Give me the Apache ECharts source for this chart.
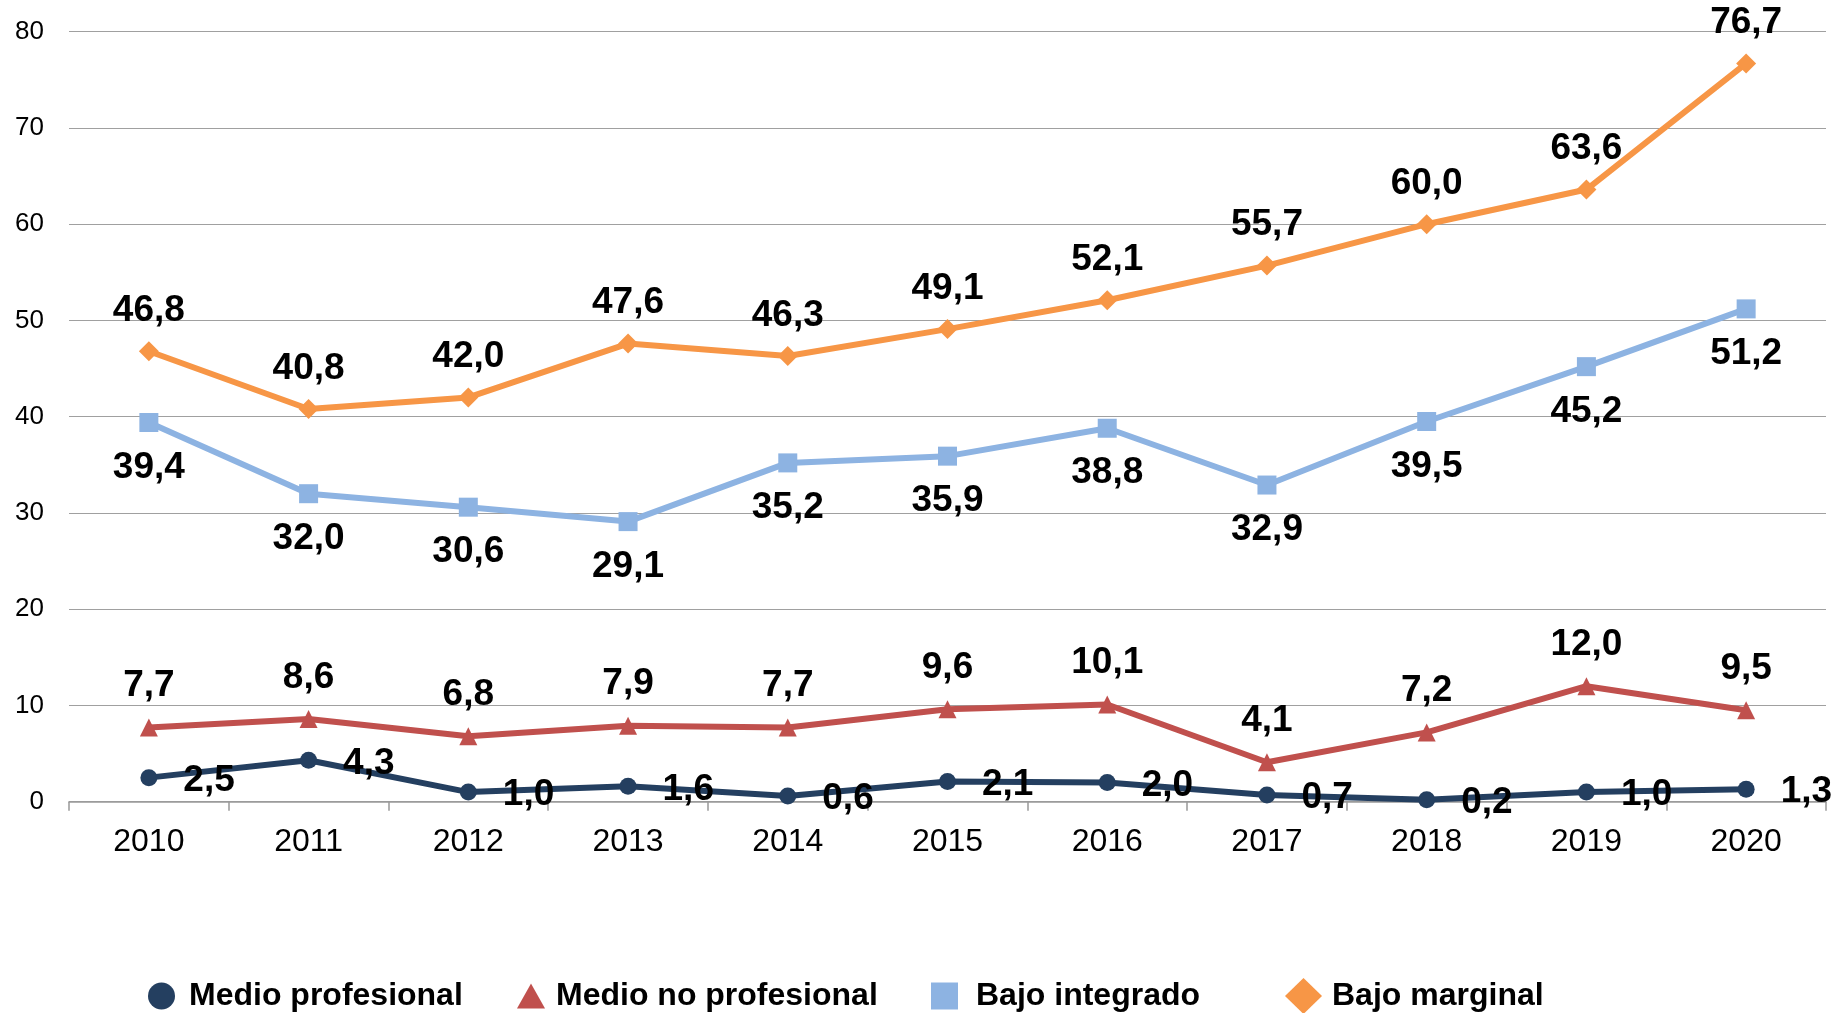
<!DOCTYPE html>
<html>
<head>
<meta charset="utf-8">
<script src="https://cdn.jsdelivr.net/npm/echarts@6/dist/echarts.min.js"></script>
<style>
html,body{margin:0;padding:0;background:#fff;}
#chart{width:1838px;height:1013px;}
</style>
</head>
<body>
<div id="chart"></div>
<script>
const years = ['2010','2011','2012','2013','2014','2015','2016','2017','2018','2019','2020'];
const medioProfesional = [2.5, 4.3, 1.0, 1.6, 0.6, 2.1, 2.0, 0.7, 0.2, 1.0, 1.3];
const medioNoProfesional = [7.7, 8.6, 6.8, 7.9, 7.7, 9.6, 10.1, 4.1, 7.2, 12.0, 9.5];
const bajoIntegrado = [39.4, 32.0, 30.6, 29.1, 35.2, 35.9, 38.8, 32.9, 39.5, 45.2, 51.2];
const bajoMarginal = [46.8, 40.8, 42.0, 47.6, 46.3, 49.1, 52.1, 55.7, 60.0, 63.6, 76.7];
const seriesNames = ['Medio profesional', 'Medio no profesional', 'Bajo integrado', 'Bajo marginal'];

const FONT = '"Liberation Sans", Arial, sans-serif';
const fmt = p => p.value.toFixed(1).replace('.', ',');
const labelBase = {show: true, formatter: fmt, color: '#000', fontSize: 37, fontWeight: 'bold', fontFamily: FONT};

const chart = echarts.init(document.getElementById('chart'));

function legendFor(name, icon, left, w, h, padLeft) {
  return {
    data: [{name: name, icon: icon}],
    left: left,
    top: 996 - Math.max(h, 32) / 2,
    padding: 0,
    itemWidth: w,
    itemHeight: h,
    selectedMode: false,
    textStyle: {fontSize: 32, fontWeight: 'bold', color: '#000', fontFamily: FONT, padding: [0, 0, 0, padLeft]}
  };
}

chart.setOption({
  animation: false,
  backgroundColor: '#fff',
  grid: {left: 69, right: 12, top: 31.7, bottom: 211.3, containLabel: false},
  legend: [
    legendFor(seriesNames[0], 'circle', 148, 27, 27, 9),
    legendFor(seriesNames[1], 'triangle', 517, 28, 25, 6),
    legendFor(seriesNames[2], 'rect', 931, 27, 27, 13),
    legendFor(seriesNames[3], 'diamond', 1285, 37, 36, 5)
  ],
  xAxis: {
    type: 'category',
    data: years,
    boundaryGap: true,
    axisLine: {show: true, lineStyle: {color: '#999', width: 1.5}},
    axisTick: {show: true, length: 9, lineStyle: {color: '#999', width: 1.5}},
    axisLabel: {fontSize: 32, color: '#000', fontFamily: FONT, margin: 24}
  },
  yAxis: {
    type: 'value',
    min: 0, max: 80, interval: 10,
    axisLine: {show: false},
    axisTick: {show: false},
    splitLine: {show: true, lineStyle: {color: '#a0a0a0', width: 1.2}},
    axisLabel: {fontSize: 26, color: '#000', fontFamily: FONT, margin: 25}
  },
  series: [
    {
      name: seriesNames[0], type: 'line', data: medioProfesional,
      symbol: 'circle', symbolSize: 17,
      lineStyle: {color: '#243F60', width: 6},
      itemStyle: {color: '#243F60'},
      label: Object.assign({}, labelBase, {position: 'right', distance: 26, offset: [0, 3]}),
      z: 4
    },
    {
      name: seriesNames[1], type: 'line', data: medioNoProfesional,
      symbol: 'triangle', symbolSize: 18,
      lineStyle: {color: '#C0504D', width: 6},
      itemStyle: {color: '#C0504D'},
      label: Object.assign({}, labelBase, {position: 'top', distance: 14}),
      z: 3
    },
    {
      name: seriesNames[2], type: 'line', data: bajoIntegrado,
      symbol: 'rect', symbolSize: 19,
      lineStyle: {color: '#8DB3E2', width: 6},
      itemStyle: {color: '#8DB3E2'},
      label: Object.assign({}, labelBase, {position: 'bottom', distance: 17}),
      z: 3
    },
    {
      name: seriesNames[3], type: 'line', data: bajoMarginal,
      symbol: 'diamond', symbolSize: 20,
      lineStyle: {color: '#F79646', width: 6},
      itemStyle: {color: '#F79646'},
      label: Object.assign({}, labelBase, {position: 'top', distance: 12}),
      z: 3
    }
  ]
});
</script>
</body>
</html>
